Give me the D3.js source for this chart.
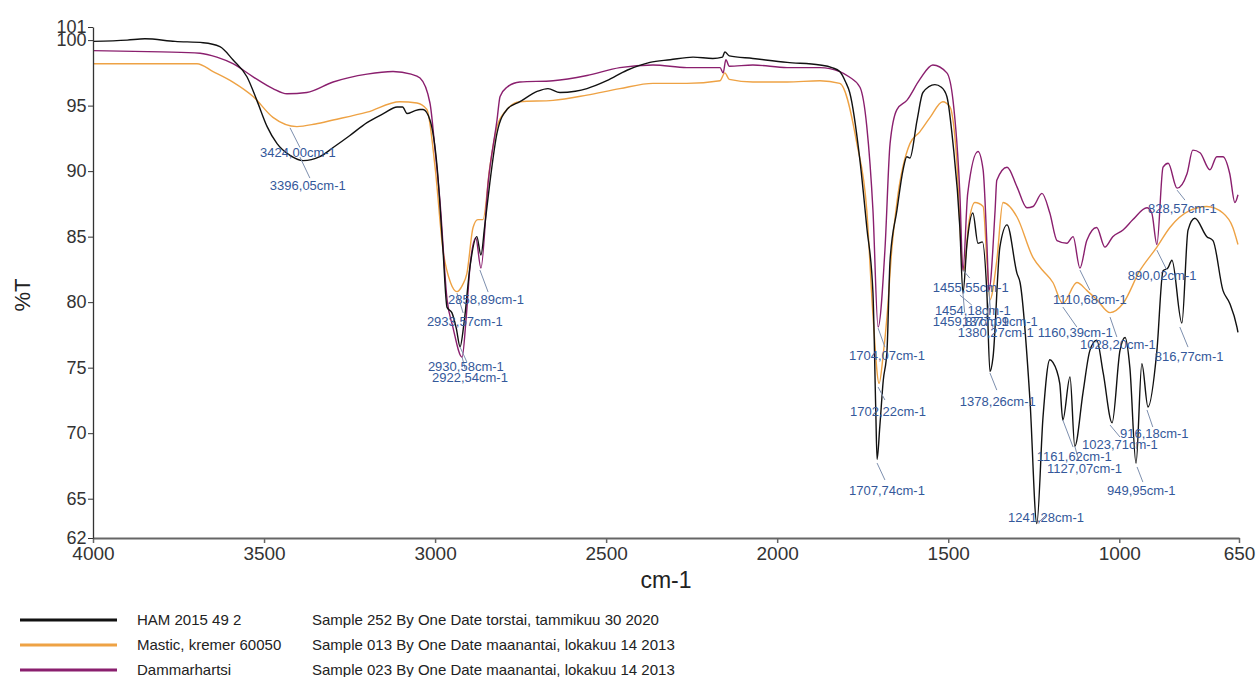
<!DOCTYPE html>
<html>

<head>
  <title>FTIR spectra</title>
  <script src="https://cdn.jsdelivr.net/npm/d3@7"></script>
  <style type="text/css">
    body {
      margin: 0;
      background: #fff;
    }

    svg {
      font-family: 'Liberation Sans', Arial, sans-serif;
    }

    .peak {
      fill: #34589a;
      font-size: 13px;
    }
  </style>
</head>

<body>
  <div id="chartArea"></div>
  <script type="text/javascript">
    // wavenumber (cm-1), %T
    let ham = [[4000, 99.9], [3900, 100.0], [3848, 100.1], [3760, 99.9], [3678, 99.8], [3629, 99.5], [3591, 98.5],
      [3550, 97.2], [3521, 95.4], [3491, 93.4], [3462, 92.1], [3424, 91.2], [3386, 90.8], [3337, 91.1], [3298, 91.8],
      [3250, 92.7], [3199, 93.7], [3150, 94.4], [3111, 94.9], [3095, 94.9], [3082, 94.4], [3060, 94.6], [3044, 94.7],
      [3035, 94.7], [3015, 93.9], [2994, 90.3], [2977, 84.0], [2965, 79.6], [2951, 79.2], [2938, 78.0], [2927, 76.6],
      [2915, 78.5], [2898, 82.7], [2878, 85.0], [2866, 83.6], [2855, 85.8], [2840, 89.1], [2819, 92.9], [2790, 94.7],
      [2752, 95.3], [2700, 96.1], [2670, 96.3], [2635, 96.0], [2590, 96.1], [2556, 96.3], [2498, 96.9], [2439, 97.7],
      [2372, 98.3], [2313, 98.5], [2246, 98.7], [2188, 98.6], [2160, 98.7], [2153, 99.1], [2140, 98.8], [2071, 98.6],
      [1971, 98.3], [1875, 98.1], [1840, 97.9], [1817, 97.6], [1800, 96.8], [1788, 96.0], [1758, 90.8], [1738, 85.7],
      [1720, 80.7], [1712, 72.0], [1708, 68.0], [1700, 70.5], [1690, 74.0], [1679, 76.3], [1670, 83.2], [1650, 87.0],
      [1632, 90.1], [1621, 91.1], [1612, 91.0], [1591, 93.9], [1574, 96.0], [1539, 96.6], [1520, 96.4], [1504, 95.7],
      [1486, 92.1], [1466, 85.7], [1457, 80.7], [1445, 84.5], [1428, 86.8], [1413, 84.5], [1400, 84.6], [1387, 80.7],
      [1378, 74.7], [1369, 75.8], [1349, 84.2], [1328, 85.9], [1299, 82.2], [1290, 81.5], [1261, 72.5], [1241, 63.1],
      [1223, 71.2], [1203, 75.6], [1194, 75.4], [1174, 73.8], [1165, 71.0], [1144, 74.3], [1130, 69.0], [1106, 73.1],
      [1086, 76.3], [1066, 77.1], [1047, 74.6], [1021, 70.8], [998, 76.3], [983, 77.3], [969, 75.0], [951, 67.7],
      [934, 75.3], [916, 72.0], [890, 76.3], [872, 82.4], [858, 82.6], [846, 83.2], [817, 78.4], [799, 85.5],
      [779, 86.4], [744, 85.0], [726, 84.7], [697, 80.9], [677, 79.9], [656, 78.1], [653, 77.7]];

    let mastic = [[4000, 98.2], [3800, 98.2], [3696, 98.2], [3649, 97.6], [3591, 96.8], [3532, 95.7], [3474, 94.1],
      [3404, 93.4], [3350, 93.6], [3298, 93.9], [3199, 94.5], [3103, 95.3], [3053, 95.2], [3024, 94.7], [3000, 90.3],
      [2977, 84.0], [2955, 81.5], [2936, 80.8], [2920, 81.3], [2907, 82.2], [2889, 85.7], [2875, 86.3], [2860, 86.3],
      [2840, 90.3], [2819, 93.4], [2790, 94.7], [2752, 95.3], [2655, 95.4], [2556, 95.8], [2460, 96.3], [2363, 96.7],
      [2264, 96.7], [2167, 96.9], [2153, 97.5], [2140, 97.0], [2071, 96.8], [1971, 96.8], [1875, 96.9], [1817, 96.7],
      [1767, 92.1], [1738, 87.0], [1720, 79.0], [1702, 73.8], [1690, 76.0], [1679, 78.9], [1665, 84.0], [1650, 87.6],
      [1612, 92.1], [1583, 93.0], [1553, 94.1], [1516, 95.3], [1495, 94.9], [1475, 90.8], [1460, 83.2], [1455, 82.4],
      [1440, 86.0], [1422, 87.6], [1398, 87.3], [1387, 83.2], [1378, 80.2], [1358, 83.2], [1340, 87.6], [1299, 86.5],
      [1252, 83.4], [1223, 82.4], [1194, 81.5], [1165, 79.9], [1124, 81.5], [1095, 80.9], [1066, 80.2], [1027, 79.2],
      [989, 79.9], [940, 82.4], [890, 84.2], [852, 85.7], [793, 87.0], [744, 87.3], [697, 86.8], [668, 85.7],
      [653, 84.4]];

    let dammar = [[4000, 99.2], [3800, 99.1], [3687, 99.0], [3638, 98.7], [3591, 98.2], [3532, 97.2], [3474, 96.3],
      [3433, 95.9], [3375, 96.0], [3298, 96.8], [3199, 97.4], [3123, 97.6], [3070, 97.4], [3044, 97.1], [3015, 95.2],
      [3000, 91.6], [2986, 87.8], [2965, 80.2], [2948, 78.1], [2921, 75.8], [2910, 78.5], [2898, 82.7], [2881, 84.9],
      [2866, 82.6], [2845, 89.1], [2819, 93.9], [2810, 95.7], [2790, 96.4], [2752, 96.8], [2655, 96.9], [2556, 97.3],
      [2460, 97.9], [2363, 98.1], [2264, 97.9], [2167, 97.9], [2158, 97.5], [2150, 98.5], [2140, 98.0], [2071, 98.1],
      [1971, 97.9], [1875, 97.9], [1817, 97.6], [1790, 97.2], [1758, 96.4], [1738, 93.4], [1720, 87.0], [1705, 78.1],
      [1685, 84.0], [1670, 92.1], [1650, 94.7], [1621, 95.4], [1583, 97.0], [1545, 98.1], [1504, 97.5], [1486, 95.4],
      [1466, 88.3], [1457, 82.4], [1443, 88.3], [1413, 91.5], [1398, 90.1], [1387, 84.5], [1381, 80.9], [1363, 87.0],
      [1358, 89.3], [1328, 90.3], [1299, 88.8], [1270, 87.2], [1252, 87.3], [1226, 88.3], [1203, 86.8], [1182, 84.7],
      [1153, 84.5], [1135, 85.0], [1115, 82.6], [1095, 84.7], [1066, 85.7], [1042, 84.2], [1019, 85.0], [989, 85.5],
      [960, 86.3], [919, 87.2], [905, 86.8], [890, 84.4], [872, 90.3], [857, 90.6], [831, 88.7], [802, 89.8],
      [785, 91.6], [764, 91.4], [735, 90.1], [715, 91.1], [697, 91.1], [677, 89.8], [662, 87.6], [653, 88.2]];

    let xTicks = [4000, 3500, 3000, 2500, 2000, 1500, 1000, 650];
    let yTicks = [62, 65, 70, 75, 80, 85, 90, 95, 100, 101];

    let seriesNames = ['HAM 2015 49 2', 'Mastic, kremer 60050', 'Dammarhartsi'];
    let seriesInfo = ['Sample 252 By One Date torstai, tammikuu 30 2020',
      'Sample 013 By One Date maanantai, lokakuu 14 2013',
      'Sample 023 By One Date maanantai, lokakuu 14 2013'];

    // text, peak [w, T], leader end [w, T], label [w, T]
    let peaks = [
      ['3424,00cm-1', 3424, 93.3, 3395, 91.8, 3512, 91.45],
      ['3396,05cm-1', 3395, 91.07, 3366, 89.47, 3483, 88.94],
      ['2858,89cm-1', 2869, 82.45, 2845, 80.77, 2962, 80.24],
      ['2933,57cm-1', 2936, 80.69, 2918, 79.17, 3024, 78.56],
      ['2930,58cm-1', 2927, 76.57, 2907, 75.43, 3021, 75.12],
      ['2922,54cm-1', 2921, 75.8, 2912, 74.9, 3009, 74.28],
      ['1704,07cm-1', 1705, 78.02, 1685, 76.57, 1790, 75.96],
      ['1702,22cm-1', 1705, 73.52, 1685, 72.53, 1787, 71.69],
      ['1707,74cm-1', 1708, 67.72, 1685, 66.43, 1790, 65.66],
      ['1455,55cm-1', 1457, 82.45, 1437, 81.84, 1545, 81.15],
      ['1454,18cm-1', 1466, 80.54, 1431, 79.78, 1539, 79.40],
      ['1459,87cm-1', 1457, 80.7, 1452, 79.2, 1545, 78.56],
      ['1377,09cm-1', 1381, 80.9, 1376, 79.2, 1460, 78.56],
      ['1380,27cm-1', 1378, 80.2, 1392, 78.3, 1472, 77.72],
      ['1160,39cm-1', 1165, 79.63, 1124, 78.10, 1238, 77.72],
      ['1378,26cm-1', 1378, 74.59, 1358, 73.29, 1466, 72.45],
      ['1241,28cm-1', 1235, 63.22, 1214, 63.75, 1325, 63.6],
      ['1161,62cm-1', 1165, 71.0, 1135, 68.94, 1241, 68.26],
      ['1127,07cm-1', 1130, 69.0, 1118, 67.9, 1211, 67.34],
      ['1023,71cm-1', 1027, 70.62, 998, 69.71, 1109, 69.17],
      ['916,18cm-1', 919, 71.77, 902, 70.47, 998, 70.01],
      ['949,95cm-1', 948, 67.42, 931, 66.27, 1036, 65.66],
      ['1028,20cm-1', 1027, 78.86, 1007, 77.34, 1115, 76.80],
      ['816,77cm-1', 823, 78.10, 799, 76.57, 896, 75.89],
      ['1110,68cm-1', 1115, 82.45, 1086, 80.92, 1194, 80.24],
      ['890,02cm-1', 890, 83.97, 861, 82.45, 975, 82.0],
      ['828,57cm-1', 831, 88.55, 808, 87.79, 916, 87.18]
    ];

    let w = 1259;
    let h = 677;

    let xScale = d3.scaleLinear()
      .domain([4000, 650])
      .range([93, 1239]);

    let yScale = d3.scaleLinear()
      .domain([62, 101])
      .range([538, 27]);

    let svg = d3.select('#chartArea').append('svg')
      .attr('width', w)
      .attr('height', h);

    let line = d3.line()
      .x(d => xScale(d[0]))
      .y(d => yScale(d[1]))
      .curve(d3.curveMonotoneX);

    let colors = ['#111111', '#eea244', '#8a1f6e'];
    let series = [ham, mastic, dammar];

    // draw orange, purple, then black on top
    [1, 2, 0].forEach(i => {
      svg.append('path')
        .datum(series[i])
        .attr('fill', 'none')
        .attr('stroke', colors[i])
        .attr('stroke-width', 1.4)
        .attr('stroke-linejoin', 'round')
        .attr('d', line);
    });

    // axes
    let xAxis = svg.append('g')
      .attr('transform', 'translate(0,' + yScale(62) + ')')
      .call(d3.axisBottom(xScale).tickValues(xTicks).tickSize(5).tickSizeOuter(0).tickPadding(4)
        .tickFormat(d3.format('d')));
    xAxis.select('.domain').attr('stroke', '#666').attr('stroke-width', 2);
    xAxis.selectAll('.tick line').attr('stroke', '#666').attr('stroke-width', 1.5);
    xAxis.selectAll('text').attr('font-size', 19).attr('fill', '#333')
      .attr('font-family', 'Liberation Sans, Arial, sans-serif');

    let yAxis = svg.append('g')
      .attr('transform', 'translate(' + xScale(4000) + ',0)')
      .call(d3.axisLeft(yScale).tickValues(yTicks).tickSize(5).tickSizeOuter(0).tickPadding(1.5)
        .tickFormat(d3.format('d')));
    yAxis.select('.domain').attr('stroke', '#333').attr('stroke-width', 1.3);
    yAxis.selectAll('.tick line').attr('stroke', '#333');
    yAxis.selectAll('text').attr('font-size', 18).attr('fill', '#333')
      .attr('font-family', 'Liberation Sans, Arial, sans-serif');

    svg.append('text')
      .attr('transform', 'translate(30,295) rotate(-90)')
      .attr('text-anchor', 'middle')
      .attr('font-size', 22)
      .attr('fill', '#222')
      .text('%T');

    svg.append('text')
      .attr('x', (xScale(4000) + xScale(650)) / 2)
      .attr('y', 588)
      .attr('text-anchor', 'middle')
      .attr('font-size', 23)
      .attr('fill', '#222')
      .text('cm-1');

    // peak labels
    let pk = svg.append('g');
    pk.selectAll('line')
      .data(peaks)
      .enter()
      .append('line')
      .attr('x1', d => xScale(d[1]))
      .attr('y1', d => yScale(d[2]))
      .attr('x2', d => xScale(d[3]))
      .attr('y2', d => yScale(d[4]))
      .attr('stroke', '#7d8fae')
      .attr('stroke-width', 1);
    pk.selectAll('text')
      .data(peaks)
      .enter()
      .append('text')
      .attr('class', 'peak')
      .attr('x', d => xScale(d[5]))
      .attr('y', d => yScale(d[6]))
      .attr('dy', '0.35em')
      .text(d => d[0]);

    // legend
    let legend = svg.append('g');
    seriesNames.forEach((name, i) => {
      let y = 620 + i * 25;
      legend.append('line')
        .attr('x1', 20).attr('x2', 117)
        .attr('y1', y).attr('y2', y)
        .attr('stroke', colors[i])
        .attr('stroke-width', 3);
      legend.append('text')
        .attr('x', 137).attr('y', y + 5)
        .attr('font-size', 15).attr('fill', '#222')
        .text(name);
      legend.append('text')
        .attr('x', 312).attr('y', y + 5)
        .attr('font-size', 15).attr('fill', '#222')
        .text(seriesInfo[i]);
    });
  </script>
</body>

</html>
